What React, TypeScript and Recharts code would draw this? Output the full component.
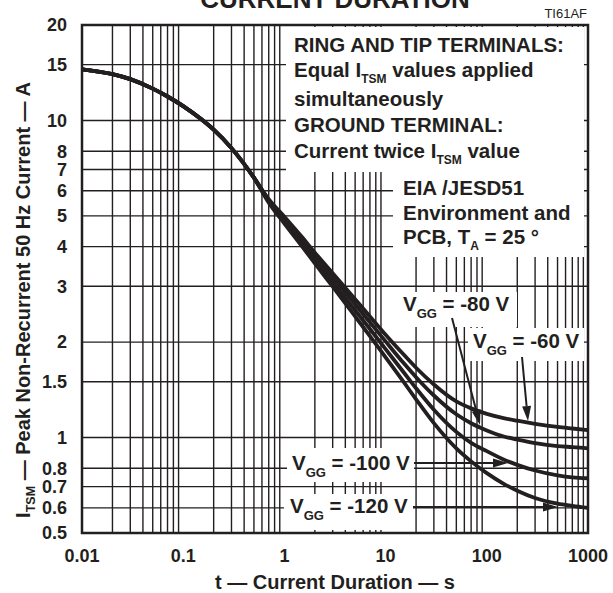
import React from 'react';
import { LineChart, Line, XAxis, YAxis, ReferenceLine } from 'recharts';

// t (s) at which the curves are read
const DURATION = [0.01, 0.02, 0.03, 0.05, 0.07, 0.1, 0.15, 0.2, 0.3, 0.5, 0.7, 1, 1.5, 2, 3, 5, 7, 10, 15, 20, 30, 50, 70, 100, 150, 200, 300, 500, 700, 1000];

// I_TSM (A) for each V_GG
const VGG_60 = [14.5, 14.0, 13.5, 12.6, 11.9, 11.1, 10.1, 9.35, 8.18, 6.6, 5.65, 4.97, 4.28, 3.83, 3.3, 2.73, 2.41, 2.11, 1.83, 1.66, 1.47, 1.3, 1.236, 1.188, 1.15, 1.13, 1.105, 1.08, 1.068, 1.056];
const VGG_80 = [14.5, 14.0, 13.5, 12.6, 11.9, 11.1, 10.1, 9.35, 8.18, 6.6, 5.6, 4.9, 4.19, 3.74, 3.2, 2.63, 2.31, 2.01, 1.72, 1.55, 1.357, 1.184, 1.109, 1.053, 1.006, 0.986, 0.961, 0.94, 0.933, 0.925];
const VGG_100 = [14.5, 14.0, 13.5, 12.6, 11.9, 11.1, 10.1, 9.35, 8.18, 6.6, 5.55, 4.815, 4.09, 3.64, 3.09, 2.52, 2.2, 1.9, 1.61, 1.43, 1.224, 1.042, 0.962, 0.906, 0.85, 0.82, 0.787, 0.76, 0.749, 0.744];
const VGG_120 = [14.5, 14.0, 13.5, 12.6, 11.9, 11.1, 10.1, 9.35, 8.18, 6.6, 5.5, 4.73, 4.0, 3.54, 2.99, 2.41, 2.09, 1.79, 1.5, 1.32, 1.11, 0.924, 0.841, 0.772, 0.712, 0.68, 0.645, 0.619, 0.609, 0.6];

const X_TICKS = [0.01, 0.1, 1, 10, 100, 1000];
const Y_TICKS = [0.5, 0.6, 0.7, 0.8, 1, 1.5, 2, 3, 4, 5, 6, 7, 8, 10, 15, 20];
const X_GRID = [0.01, 0.1, 1, 10, 100].flatMap((d) => [2, 3, 4, 5, 6, 7, 8, 9].map((m) => +(d * m).toPrecision(3)));

const data = DURATION.map((t, i) => ({
  t,
  v60: VGG_60[i],
  v80: VGG_80[i],
  v100: VGG_100[i],
  v120: VGG_120[i],
}));

const INK = '#231f20';
const FONT = '"Liberation Sans", Arial, Helvetica, sans-serif';
const W = 613;
const H = 593;
// plot box
const PL = 82;
const PR = 588;
const PT = 25;
const PB = 533;

function Arrow({ x1, y1, x2, y2 }: { x1: number; y1: number; x2: number; y2: number }) {
  const a = Math.atan2(y2 - y1, x2 - x1);
  const len = 15;
  const hw = 4.5;
  const bx = x2 - len * Math.cos(a);
  const by = y2 - len * Math.sin(a);
  const px = -Math.sin(a) * hw;
  const py = Math.cos(a) * hw;
  return (
    <g>
      <line x1={x1} y1={y1} x2={bx} y2={by} stroke={INK} strokeWidth={2} />
      <polygon points={`${x2},${y2} ${bx + px},${by + py} ${bx - px},${by - py}`} fill={INK} />
    </g>
  );
}

function Vgg({ x, y, v }: { x: number; y: number; v: string }) {
  return (
    <text x={x} y={y} fontFamily={FONT} fontWeight="bold" fontSize={20.5} fill={INK}>
      V<tspan fontSize={13} dy={7}>GG</tspan>
      <tspan dy={-7}>{` = ${v} V`}</tspan>
    </text>
  );
}

function Overlay() {
  const t = { fontFamily: FONT, fontWeight: 'bold' as const, fontSize: 20.5, fill: INK };
  return (
    <svg width={W} height={H} style={{ position: 'absolute', left: 0, top: 0, pointerEvents: 'none' }}>
      {/* white boxes behind notes */}
      <rect x={286} y={27} width={298} height={145} fill="#fff" />
      <rect x={393} y={172} width={191} height={85} fill="#fff" />
      <rect x={399} y={292} width={118} height={35} fill="#fff" />
      <rect x={468} y={328} width={116} height={33} fill="#fff" />
      <rect x={287} y={448} width={127} height={34} fill="#fff" />
      <rect x={284} y={494} width={129} height={36} fill="#fff" />

      <rect x={PL} y={PT} width={PR - PL} height={PB - PT} fill="none" stroke={INK} strokeWidth={2.5} />

      <text x={335} y={8} textAnchor="middle" fontFamily={FONT} fontWeight="bold" fontSize={26} fill={INK}>
        CURRENT DURATION
      </text>
      <text x={587} y={18} textAnchor="end" fontFamily={FONT} fontSize={13} fill={INK}>
        TI61AF
      </text>

      <text {...t} x={294} y={52}>RING AND TIP TERMINALS:</text>
      <text {...t} x={294} y={77}>
        Equal I<tspan fontSize={12} dy={6}>TSM</tspan>
        <tspan dy={-6}> values applied</tspan>
      </text>
      <text {...t} x={294} y={106}>simultaneously</text>
      <text {...t} x={294} y={132}>GROUND TERMINAL:</text>
      <text {...t} x={294} y={158}>
        Current twice I<tspan fontSize={12} dy={6}>TSM</tspan>
        <tspan dy={-6}> value</tspan>
      </text>
      <text {...t} x={403} y={195}>EIA /JESD51</text>
      <text {...t} x={403} y={220}>Environment and</text>
      <text {...t} x={403} y={244}>
        PCB, T<tspan fontSize={12} dy={6}>A</tspan>
        <tspan dy={-6}> = 25 °</tspan>
      </text>

      <Vgg x={403} y={311} v="-80" />
      <Vgg x={473} y={348} v="-60" />
      <Vgg x={292} y={470} v="-100" />
      <Vgg x={290} y={513} v="-120" />

      <Arrow x1={452} y1={318} x2={480} y2={425} />
      <Arrow x1={522} y1={357} x2={528} y2={421} />
      <Arrow x1={414} y1={463} x2={508} y2={463} />
      <Arrow x1={413} y1={507} x2={558} y2={507} />

      <text
        transform="translate(30, 300) rotate(-90)"
        textAnchor="middle"
        fontFamily={FONT}
        fontWeight="bold"
        fontSize={20}
        fill={INK}
      >
        I<tspan fontSize={12.5} dy={5}>TSM</tspan>
        <tspan dy={-5}> — Peak Non-Recurrent 50 Hz Current — A</tspan>
      </text>
      <text x={335} y={589} textAnchor="middle" fontFamily={FONT} fontWeight="bold" fontSize={20} fill={INK}>
        t — Current Duration — s
      </text>
    </svg>
  );
}

export default function App() {
  const tick = { fontFamily: FONT, fontWeight: 'bold', fontSize: 18, fill: INK };
  return (
    <div style={{ position: 'fixed', left: 0, top: 0, width: W, height: H, background: '#fff' }}>
      <LineChart
        width={W}
        height={H}
        data={data}
        margin={{ top: PT, right: W - PR, bottom: 0, left: 0 }}
      >
        <XAxis
          dataKey="t"
          type="number"
          scale="log"
          domain={[0.01, 1000]}
          ticks={X_TICKS}
          interval={0}
          allowDataOverflow
          height={H - PB}
          tickLine={false}
          axisLine={false}
          tickSize={0}
          tickMargin={16}
          tick={tick}
        />
        <YAxis
          type="number"
          scale="log"
          domain={[0.5, 20]}
          ticks={Y_TICKS}
          interval={0}
          allowDataOverflow
          width={PL}
          tickLine={false}
          axisLine={false}
          tickSize={0}
          tickMargin={15}
          tick={tick}
        />
        {X_GRID.map((x) => (
          <ReferenceLine key={`x${x}`} x={x} stroke={INK} strokeWidth={1.4} />
        ))}
        {Y_TICKS.map((y) => (
          <ReferenceLine key={`y${y}`} y={y} stroke={INK} strokeWidth={1.4} />
        ))}
        <Line dataKey="v60" type="monotone" stroke={INK} strokeWidth={3.8} dot={false} isAnimationActive={false} />
        <Line dataKey="v80" type="monotone" stroke={INK} strokeWidth={3.8} dot={false} isAnimationActive={false} />
        <Line dataKey="v100" type="monotone" stroke={INK} strokeWidth={3.8} dot={false} isAnimationActive={false} />
        <Line dataKey="v120" type="monotone" stroke={INK} strokeWidth={3.8} dot={false} isAnimationActive={false} />
      </LineChart>
      <Overlay />
    </div>
  );
}
